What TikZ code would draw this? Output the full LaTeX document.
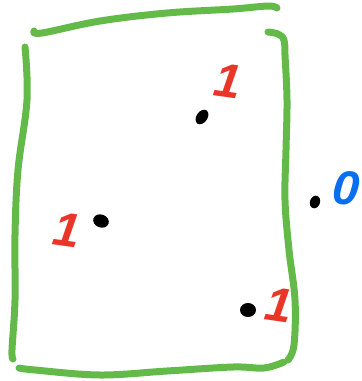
\documentclass[tikz,border=0pt]{standalone}
\usepackage{fontspec}
\setmainfont{Liberation Sans}
\definecolor{sketchgreen}{RGB}{99,186,72}
\definecolor{sketchred}{RGB}{234,54,40}
\definecolor{sketchblue}{RGB}{10,110,240}
\tikzset{
  border/.style={draw=sketchgreen,line width=7pt,line cap=round,line join=round},
  numlabel/.style={inner sep=0pt,font=\fontsize{48}{48}\selectfont\bfseries\itshape},
}
\begin{document}
\begin{tikzpicture}[x=1pt,y=-1pt]
\useasboundingbox (0,0) rectangle (362,381);
% green sketch rectangle (four separate strokes)
\draw[border] plot[smooth,tension=0.6] coordinates {(34,31) (42,33) (100,21) (167,13) (233,9) (268,6) (277,8)};
\draw[border] plot[smooth,tension=0.6] coordinates {(268,32) (278,34) (284,40) (285,55) (287,100) (286,150) (285,200) (289,250) (295,300) (294,345) (288,360)};
\draw[border] plot[smooth,tension=0.6] coordinates {(25,47) (27,100) (18,170) (15,235) (15,300) (12,350) (13,359)};
\draw[border] plot[smooth,tension=0.6] coordinates {(19,368) (35,370) (100,375) (167,371) (233,367) (264,368) (284,362)};
% points
\coordinate (p1) at (202,117);
\coordinate (p2) at (101,221);
\coordinate (p3) at (315,202);
\coordinate (p4) at (248,310);
\fill[rotate around={55:(p1)}] (p1) ellipse[x radius=8pt,y radius=5.5pt];
\fill[rotate around={-20:(p2)}] (p2) ellipse[x radius=8pt,y radius=6.5pt];
\fill[rotate around={70:(p3)}] (p3) ellipse[x radius=6.5pt,y radius=5pt];
\fill (p4) ellipse[x radius=8pt,y radius=7pt];
% labels
\node[numlabel,text=sketchred,rotate=-8] (l1) at (228,81) {1};
\node[numlabel,text=sketchred,rotate=-8] (l2) at (67,230) {1};
\node[numlabel,text=sketchred,rotate=-8] (l4) at (279,305) {1};
\node[numlabel,text=sketchblue,rotate=-5] (l3) at (346,188) {0};
\end{tikzpicture}
\end{document}
